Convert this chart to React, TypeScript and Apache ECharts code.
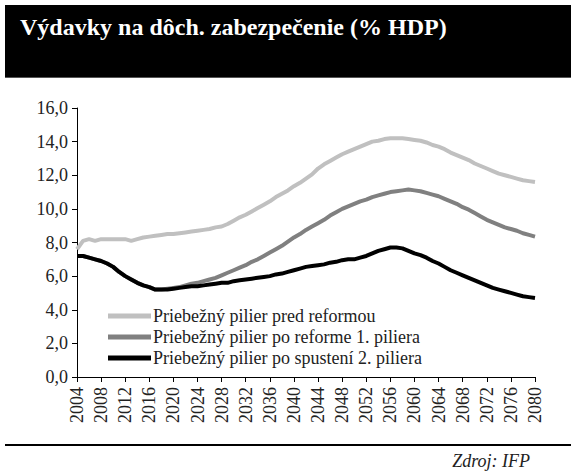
import React, { useEffect, useRef } from "react";
import * as echarts from "echarts";

const TITLE = "Výdavky na dôch. zabezpečenie (% HDP)";
const SOURCE = "Zdroj: IFP";
const SERIES_NAMES = [
  "Priebežný pilier pred reformou",
  "Priebežný pilier po reforme 1. piliera",
  "Priebežný pilier po spustení 2. piliera",
];

const years: number[] = [];
for (let y = 2004; y <= 2080; y++) years.push(y);

const predReformou = [
  7.6, 8.1, 8.2, 8.1, 8.2, 8.2, 8.2, 8.2, 8.2, 8.1,
  8.2, 8.3, 8.35, 8.4, 8.45, 8.5, 8.5, 8.55, 8.6, 8.65,
  8.7, 8.75, 8.8, 8.9, 8.95, 9.1, 9.3, 9.5, 9.65, 9.85,
  10.05, 10.25, 10.45, 10.7, 10.9, 11.1, 11.35, 11.55, 11.8, 12.05,
  12.4, 12.65, 12.85, 13.05, 13.25, 13.4, 13.55, 13.7, 13.85, 14.0,
  14.05, 14.15, 14.2, 14.2, 14.2, 14.15, 14.1, 14.05, 13.95, 13.8,
  13.7, 13.55, 13.35, 13.2, 13.05, 12.9, 12.7, 12.55, 12.4, 12.25,
  12.1, 12.0, 11.9, 11.8, 11.7, 11.65, 11.6,
];

const poReforme = [
  7.2, 7.2, 7.1, 7.0, 6.9, 6.75, 6.55, 6.25, 6.0, 5.8,
  5.6, 5.45, 5.35, 5.2, 5.2, 5.25, 5.3, 5.35, 5.45, 5.55,
  5.6, 5.7, 5.8, 5.9, 6.05, 6.2, 6.35, 6.5, 6.65, 6.85,
  7.0, 7.2, 7.4, 7.6, 7.8, 8.05, 8.3, 8.5, 8.75, 8.95,
  9.15, 9.35, 9.6, 9.8, 10.0, 10.15, 10.3, 10.45, 10.55, 10.7,
  10.8, 10.9, 11.0, 11.05, 11.1, 11.15, 11.1, 11.05, 10.95, 10.85,
  10.75, 10.6, 10.45, 10.3, 10.1, 9.95, 9.75, 9.55, 9.35, 9.2,
  9.05, 8.9, 8.8, 8.7, 8.55, 8.45, 8.35,
];

const poSpusteni = [
  7.2, 7.2, 7.1, 7.0, 6.9, 6.75, 6.55, 6.25, 6.0, 5.8,
  5.6, 5.45, 5.35, 5.2, 5.2, 5.2, 5.25, 5.3, 5.35, 5.4,
  5.4, 5.45, 5.5, 5.55, 5.6, 5.6, 5.7, 5.75, 5.8, 5.85,
  5.9, 5.95, 6.0, 6.1, 6.15, 6.25, 6.35, 6.45, 6.55, 6.6,
  6.65, 6.7, 6.8, 6.85, 6.95, 7.0, 7.0, 7.1, 7.2, 7.35,
  7.5, 7.6, 7.7, 7.7, 7.65, 7.5, 7.35, 7.25, 7.1, 6.9,
  6.75, 6.55, 6.35, 6.2, 6.05, 5.9, 5.75, 5.6, 5.45, 5.3,
  5.2, 5.1, 5.0, 4.9, 4.8, 4.75, 4.7,
];

const COLORS = ["#c0c0c0", "#808080", "#000000"];
const FONT = "'Liberation Serif', 'DejaVu Serif', serif";

export default function App() {
  const ref = useRef<HTMLDivElement>(null);
  useEffect(() => {
    if (!ref.current) return;
    const chart = echarts.init(ref.current, undefined, { renderer: "svg" });
    const seriesData = [predReformou, poReforme, poSpusteni];
    chart.setOption({
      animation: false,
      backgroundColor: "#ffffff",
      textStyle: { fontFamily: FONT },
      grid: { left: 77, right: 36, top: 108, bottom: 95, containLabel: false },
      legend: {
        orient: "vertical",
        left: 103,
        top: 301,
        itemWidth: 43,
        itemHeight: 5,
        itemGap: 1,
        icon: "rect",
        textStyle: { fontFamily: FONT, fontSize: 18, color: "#222", lineHeight: 20, padding: [0, 0, 0, -3] },
        data: SERIES_NAMES,
      },
      xAxis: {
        type: "value",
        min: 2004,
        max: 2080,
        interval: 4,
        splitLine: { show: false },
        axisLine: { lineStyle: { color: "#000", width: 1 } },
        axisTick: { length: 5, lineStyle: { color: "#000" } },
        axisLabel: {
          rotate: 90,
          fontFamily: FONT,
          fontSize: 18,
          color: "#222",
          margin: 10,
          formatter: (v: number) => String(v),
        },
      },
      yAxis: {
        type: "value",
        min: 0,
        max: 16,
        interval: 2,
        splitLine: { show: false },
        axisLine: { show: true, lineStyle: { color: "#000", width: 1 } },
        axisTick: { show: true, length: 5, lineStyle: { color: "#000" } },
        axisLabel: {
          fontFamily: FONT,
          fontSize: 18,
          color: "#222",
          margin: 9,
          formatter: (v: number) => v.toFixed(1).replace(".", ","),
        },
      },
      series: SERIES_NAMES.map((name, i) => ({
        name,
        type: "line",
        showSymbol: false,
        symbol: "none",
        color: COLORS[i],
        lineStyle: { width: 4, color: COLORS[i] },
        data: years.map((y, j) => [y, seriesData[i][j]]),
        z: 2 + i,
      })),
      graphic: [
        { type: "rect", shape: { x: 5, y: 5, width: 566, height: 73 }, style: { fill: "#000" } },
        { type: "rect", shape: { x: 5, y: 77, width: 566, height: 1 }, style: { fill: "#555" } },
        {
          type: "text",
          x: 20,
          y: 15,
          style: { text: TITLE, fill: "#fff", font: `bold 24px ${FONT}` },
        },
        { type: "rect", shape: { x: 5, y: 444, width: 566, height: 2 }, style: { fill: "#000" } },
        {
          type: "text",
          x: 530,
          y: 452,
          style: { text: SOURCE, fill: "#222", font: `italic 18px ${FONT}`, textAlign: "right" },
        },
      ],
    });
    return () => chart.dispose();
  }, []);
  return (
    <div
      ref={ref}
      style={{ position: "fixed", left: 0, top: 0, width: 571, height: 472, background: "#fff" }}
    />
  );
}
